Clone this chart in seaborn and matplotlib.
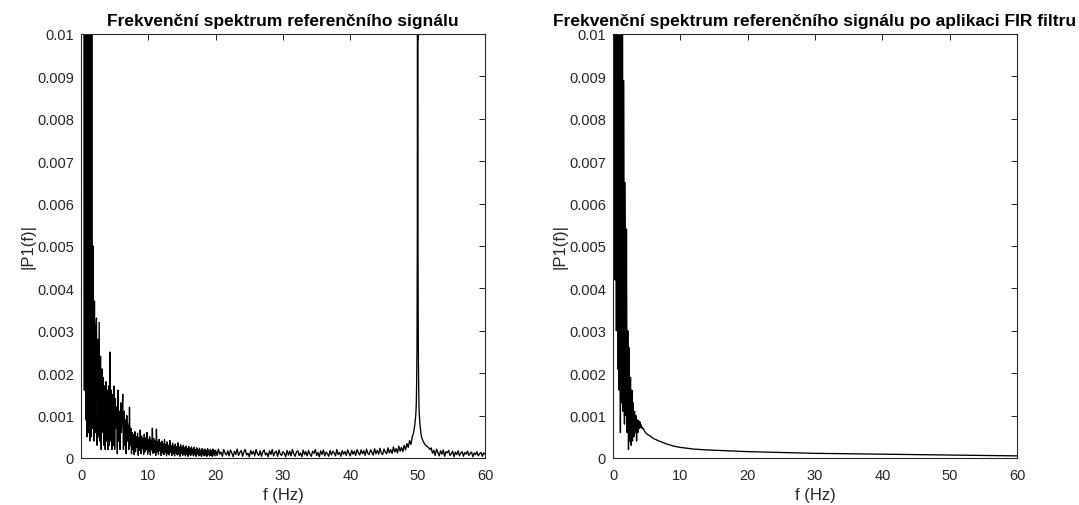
import numpy as np
import pandas as pd
import matplotlib
matplotlib.use("Agg")
import matplotlib.pyplot as plt
import seaborn as sns

# ---------------- data ----------------
titles = ["Frekvenční spektrum referenčního signálu",
          "Frekvenční spektrum referenčního signálu po aplikaci FIR filtru"]
x_label = "f (Hz)"
y_label = "|P1(f)|"
x_ticks = [0, 10, 20, 30, 40, 50, 60]
y_ticks = [0, 0.001, 0.002, 0.003, 0.004, 0.005, 0.006, 0.007, 0.008, 0.009, 0.01]
y_tick_labels = ["0", "0.001", "0.002", "0.003", "0.004", "0.005",
                 "0.006", "0.007", "0.008", "0.009", "0.01"]

# reference signal spectrum, 0.0 .. 19.9 Hz, bin 0.1 Hz, values in units of 1e-5
ref_low_start, ref_low_df = 0.0, 0.1
ref_low_e5 = [
    370, 2100, 3400, 2800, 1900, 160, 2900, 90, 3100, 50,
    2600, 60, 2200, 40, 1800, 50, 1250, 70, 500, 40,
    370, 60, 300, 330, 30, 280, 50, 320, 40, 240,
    20, 210, 60, 190, 30, 170, 20, 180, 40, 160,
    20, 170, 30, 250, 40, 160, 20, 150, 30, 170,
    20, 140, 70, 120, 10, 160, 40, 110, 20, 130,
    60, 100, 150, 20, 110, 30, 90, 10, 100, 40,
    80, 20, 120, 30, 70, 10, 60, 20, 55, 8,
    62, 15, 50, 25, 58, 6, 48, 18, 66, 10,
    52, 22, 45, 8, 56, 14, 47, 20, 60, 9,
    44, 16, 50, 7, 42, 19, 70, 11, 46, 13,
    40, 6, 68, 15, 38, 9, 44, 17, 36, 6,
    40, 12, 34, 8, 43, 14, 32, 5, 38, 11,
    30, 7, 41, 13, 29, 6, 35, 10, 28, 5,
    33, 12, 27, 7, 36, 9, 26, 4, 31, 11,
    25, 6, 30, 10, 24, 5, 28, 9, 23, 4,
    27, 8, 22, 6, 26, 10, 21, 5, 25, 8,
    20, 4, 24, 9, 19, 5, 23, 7, 18, 4,
    22, 8, 19, 5, 21, 7, 17, 4, 22, 8,
    18, 5, 20, 6, 17, 4, 21, 7, 18, 5,
]
# reference signal spectrum, 20.0 .. 49.4 Hz, bin 0.2 Hz
ref_mid_start, ref_mid_df = 20.0, 0.2
ref_mid_e5 = [
    18, 6, 21, 9, 14, 4, 20, 11, 7, 17,
    5, 19, 12, 3, 16, 8, 21, 6, 13, 18,
    4, 15, 20, 7, 11, 3, 18, 9, 16, 5,
    20, 10, 6, 17, 4, 14, 19, 7, 12, 3,
    17, 8, 20, 5, 13, 16, 4, 19, 9, 6,
    15, 11, 3, 18, 7, 16, 5, 20, 10, 4,
    14, 17, 6, 12, 3, 19, 8, 15, 5, 18,
    9, 4, 16, 11, 20, 6, 13, 3, 17, 8,
    19, 5, 14, 10, 4, 18, 7, 16, 12, 5,
    20, 8, 13, 4, 17, 9, 15, 6, 19, 11,
    5, 18, 9, 16, 6, 20, 12, 7, 19, 10,
    17, 6, 21, 11, 8, 19, 13, 7, 22, 10,
    18, 9, 23, 12, 8, 21, 14, 10, 24, 12,
    20, 11, 26, 14, 22, 12, 28, 16, 25, 15,
    30, 19, 34, 25, 41, 32, 50, 60,
]
# reference signal spectrum around the 50 Hz line, 49.5 .. 50.5 Hz, bin 0.05 Hz
ref_peak_start, ref_peak_df = 49.5, 0.05
ref_peak_e5 = [70, 75, 82, 90, 98, 110, 130, 180, 260, 530,
               3000, 500, 250, 170, 120, 100, 88, 78, 70, 62, 56]
# reference signal spectrum, 50.6 .. 60.0 Hz, bin 0.2 Hz
ref_tail_start, ref_tail_df = 50.6, 0.2
ref_tail_e5 = [
    48, 40, 34, 30, 27, 25, 20,
    24, 11, 18, 6, 21, 13, 5, 17, 9, 19,
    4, 15, 12, 18, 6, 10, 16, 3, 14, 8,
    17, 5, 12, 15, 4, 13, 9, 16, 6, 11,
    14, 3, 12, 8, 15, 5, 10, 13, 4, 12,
    9,
]

# FIR-filtered spectrum, 0.0 .. 5.0 Hz, bin 0.1 Hz, values in units of 1e-5
fir_low_start, fir_low_df = 0.0, 0.1
fir_low_e5 = [
    250, 2200, 3100, 420, 2700, 300, 2400, 210, 2100, 160,
    1900, 60, 1600, 130, 1300, 110, 890, 80, 650, 100,
    540, 60, 300, 20, 260, 40, 190, 30, 160, 40,
    130, 50, 110, 60, 100, 40, 90, 60, 88, 70,
    85, 72, 78, 70, 72, 68, 66, 63, 61, 59,
    57,
]
# FIR-filtered spectrum, smooth tail
fir_tail_f = [5.5, 6, 7, 8, 9, 10, 12, 14, 17, 20, 25, 30, 35, 40, 45, 50, 55, 60]
fir_tail_e5 = [52, 46, 39, 33, 28, 25, 21, 19, 17, 15, 13, 11, 10, 9, 8, 7, 6, 5]


# ---------------- build tables ----------------
def bins(start, step, vals):
    return start + np.arange(len(vals)) * step


f_ref = np.concatenate([bins(ref_low_start, ref_low_df, ref_low_e5),
                        bins(ref_mid_start, ref_mid_df, ref_mid_e5),
                        bins(ref_peak_start, ref_peak_df, ref_peak_e5),
                        bins(ref_tail_start, ref_tail_df, ref_tail_e5)])
p_ref = np.array(ref_low_e5 + ref_mid_e5 + ref_peak_e5 + ref_tail_e5) * 1e-5
df_ref = pd.DataFrame({"f": f_ref, "P1": p_ref})

f_fir = np.concatenate([bins(fir_low_start, fir_low_df, fir_low_e5), np.array(fir_tail_f)])
p_fir = np.array(fir_low_e5 + fir_tail_e5) * 1e-5
df_fir = pd.DataFrame({"f": f_fir, "P1": p_fir})

# ---------------- style ----------------
sns.set_style("white")
plt.rcParams['font.family'] = ['Liberation Sans', 'DejaVu Sans']
axis_col = "#262626"

fig = plt.figure(figsize=(10.79, 5.06), dpi=100)
W, H = 1079, 506
boxes = [(81, 35, 485, 459), (613, 35, 1017, 459)]

for i, (df, (l, t, r, b)) in enumerate(zip([df_ref, df_fir], boxes)):
    ax = fig.add_axes([l / W, 1 - b / H, (r - l) / W, (b - t) / H])
    sns.lineplot(data=df, x="f", y="P1", ax=ax, color="black", linewidth=0.95,
                 estimator=None, sort=False)
    ax.set_xlim(0, 60)
    ax.set_ylim(0, 0.01)
    ax.set_xticks(x_ticks)
    ax.set_xticklabels([str(v) for v in x_ticks])
    ax.set_yticks(y_ticks)
    ax.set_yticklabels(y_tick_labels)
    ax.tick_params(direction="in", top=True, right=True, length=4, width=0.7,
                   colors=axis_col, labelsize=10.5)
    ax.tick_params(axis="x", pad=7)
    ax.tick_params(axis="y", pad=5)
    for s in ax.spines.values():
        s.set_color(axis_col)
        s.set_linewidth(0.8)
    ax.set_xlabel(x_label, fontsize=12, color=axis_col, labelpad=4)
    ax.set_ylabel(y_label, fontsize=12, color=axis_col, labelpad=1)
    ax.set_title(titles[i], fontsize=12.5, fontweight="bold", color="black",
                 x=0.5, pad=6.5)

fig.savefig("out.png", dpi=100, facecolor="white")
